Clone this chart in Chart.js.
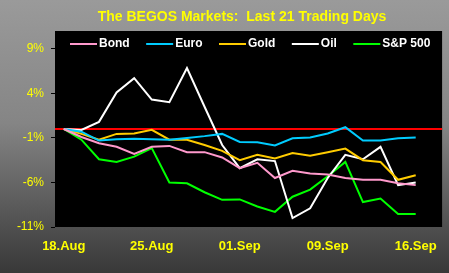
<!DOCTYPE html>
<html lang="en">
<head>
<meta charset="UTF-8">
<title>BEGOS Markets</title>
<script src="https://cdn.jsdelivr.net/npm/chart.js"></script>
<style>
  body { margin: 0; background: #3a3a3a; }
  #chart { display: block; }
</style>
</head>
<body>
<canvas id="chart" width="449" height="273"></canvas>
<script>
  // last 21 trading days, % change from the first day
  var days = ['18.Aug', '19.Aug', '20.Aug', '21.Aug', '22.Aug',
              '25.Aug', '26.Aug', '27.Aug', '28.Aug', '29.Aug',
              '01.Sep', '02.Sep', '03.Sep', '04.Sep', '05.Sep',
              '09.Sep', '10.Sep', '11.Sep', '12.Sep', '15.Sep', '16.Sep'];
  var xTicks = [0, 5, 10, 15, 20];
  var yTicks = [9, 4, -1, -6, -11];

  var bond = [0, -0.9, -1.6, -2.0, -2.8, -2.0, -1.9, -2.6, -2.6, -3.2, -4.4,
              -3.8, -5.5, -4.7, -5.0, -5.1, -5.5, -5.7, -5.7, -6.1, -6.3];
  var euro = [0, -0.3, -1.3, -1.15, -1.1, -1.15, -1.2, -1.0, -0.8, -0.55, -1.45,
              -1.5, -1.85, -1.05, -0.95, -0.5, 0.2, -1.3, -1.3, -1.05, -0.95];
  var gold = [0, -0.55, -1.2, -0.55, -0.5, -0.1, -1.2, -1.2, -1.8, -2.45, -3.5,
              -2.9, -3.3, -2.7, -3.0, -2.6, -2.2, -3.5, -3.7, -5.7, -5.2];
  var oil  = [0, -0.1, 0.8, 4.1, 5.7, 3.3, 3.0, 6.85, 2.5, -1.8, -4.4,
              -3.4, -3.6, -10.0, -8.9, -5.5, -2.9, -3.4, -2.0, -6.3, -6.0];
  var spx  = [0, -1.2, -3.4, -3.7, -3.1, -2.15, -6.0, -6.1, -7.1, -7.95, -7.9,
              -8.7, -9.3, -7.6, -6.8, -5.3, -3.7, -8.2, -7.8, -9.55, -9.55];

  var names = ['Bond', 'Euro', 'Gold', 'Oil', 'S&P 500'];
  var colors = ['#ff99cc', '#00ccff', '#ffcc00', '#ffffff', '#00ff00'];
  var series = [bond, euro, gold, oil, spx];

  function toPoints(arr) {
    return arr.map(function (v, i) { return { x: i, y: v }; });
  }

  var datasets = series.map(function (arr, k) {
    return {
      label: names[k],
      data: toPoints(arr),
      borderColor: colors[k],
      backgroundColor: colors[k],
      borderWidth: 2,
      pointRadius: 0,
      tension: 0
    };
  });

  var backdrop = {
    id: 'backdrop',
    beforeDraw: function (chart) {
      var c = chart.ctx, a = chart.chartArea;
      var g = c.createLinearGradient(0, 0, 0, chart.height);
      g.addColorStop(0, '#9a9a9a');
      g.addColorStop(0.45, '#858585');
      g.addColorStop(1, '#383838');
      c.save();
      c.fillStyle = g;
      c.fillRect(0, 0, chart.width, chart.height);
      c.fillStyle = '#000';
      c.fillRect(a.left, a.top, a.right - a.left, a.bottom - a.top);
      // title
      c.fillStyle = '#ffff00';
      c.font = 'bold 14px "Liberation Sans", Arial, sans-serif';
      c.textAlign = 'center';
      c.textBaseline = 'middle';
      c.fillText('The BEGOS Markets:  Last 21 Trading Days', 242, 17);
      c.restore();
    },
    beforeDatasetsDraw: function (chart) {
      var c = chart.ctx, a = chart.chartArea;
      var y = chart.scales.y.getPixelForValue(0);
      c.save();
      c.strokeStyle = '#ff0000';
      c.lineWidth = 2;
      c.beginPath();
      c.moveTo(a.left, y);
      c.lineTo(a.right, y);
      c.stroke();
      c.restore();
    },
    afterDraw: function (chart) {
      var c = chart.ctx;
      c.save();
      c.font = 'bold 12px "Liberation Sans", Arial, sans-serif';
      c.textBaseline = 'middle';
      c.textAlign = 'left';
      var x = 70, y = 44;
      chart.data.datasets.forEach(function (ds) {
        c.strokeStyle = ds.borderColor;
        c.lineWidth = 2;
        c.beginPath();
        c.moveTo(x, y);
        c.lineTo(x + 27, y);
        c.stroke();
        c.fillStyle = '#ffffff';
        c.fillText(ds.label, x + 29, y);
        x += 29 + c.measureText(ds.label).width + 16.5;
      });
      c.restore();
    }
  };

  new Chart(document.getElementById('chart'), {
    type: 'line',
    data: { datasets: datasets },
    plugins: [backdrop],
    options: {
      responsive: false,
      animation: false,
      layout: { padding: { top: 31, right: 5, left: 0, bottom: 0 } },
      plugins: {
        legend: { display: false },
        title: { display: false },
        tooltip: { enabled: false }
      },
      scales: {
        x: {
          type: 'linear',
          min: -0.5,
          max: 21.5,
          afterBuildTicks: function (scale) {
            scale.ticks = xTicks.map(function (v) { return { value: v }; });
          },
          afterFit: function (scale) { scale.height = 46; },
          grid: { display: false, drawTicks: false },
          border: { display: false },
          ticks: {
            autoSkip: false,
            maxRotation: 0,
            padding: 12,
            color: '#ffff00',
            font: { family: '"Liberation Sans", Arial, sans-serif', size: 13, weight: 'bold' },
            callback: function (v) { return days[v]; }
          }
        },
        y: {
          min: -11,
          max: 11,
          afterBuildTicks: function (scale) {
            scale.ticks = yTicks.slice().reverse().map(function (v) { return { value: v }; });
          },
          afterFit: function (scale) { scale.width = 55; },
          grid: { drawOnChartArea: false, drawTicks: true, tickLength: 4, color: '#000', lineWidth: 1 },
          border: { display: false },
          ticks: {
            padding: 7,
            color: '#ffff00',
            font: { family: '"Liberation Sans", Arial, sans-serif', size: 12 },
            callback: function (v) { return v + '%'; }
          }
        }
      }
    }
  });
</script>
</body>
</html>
